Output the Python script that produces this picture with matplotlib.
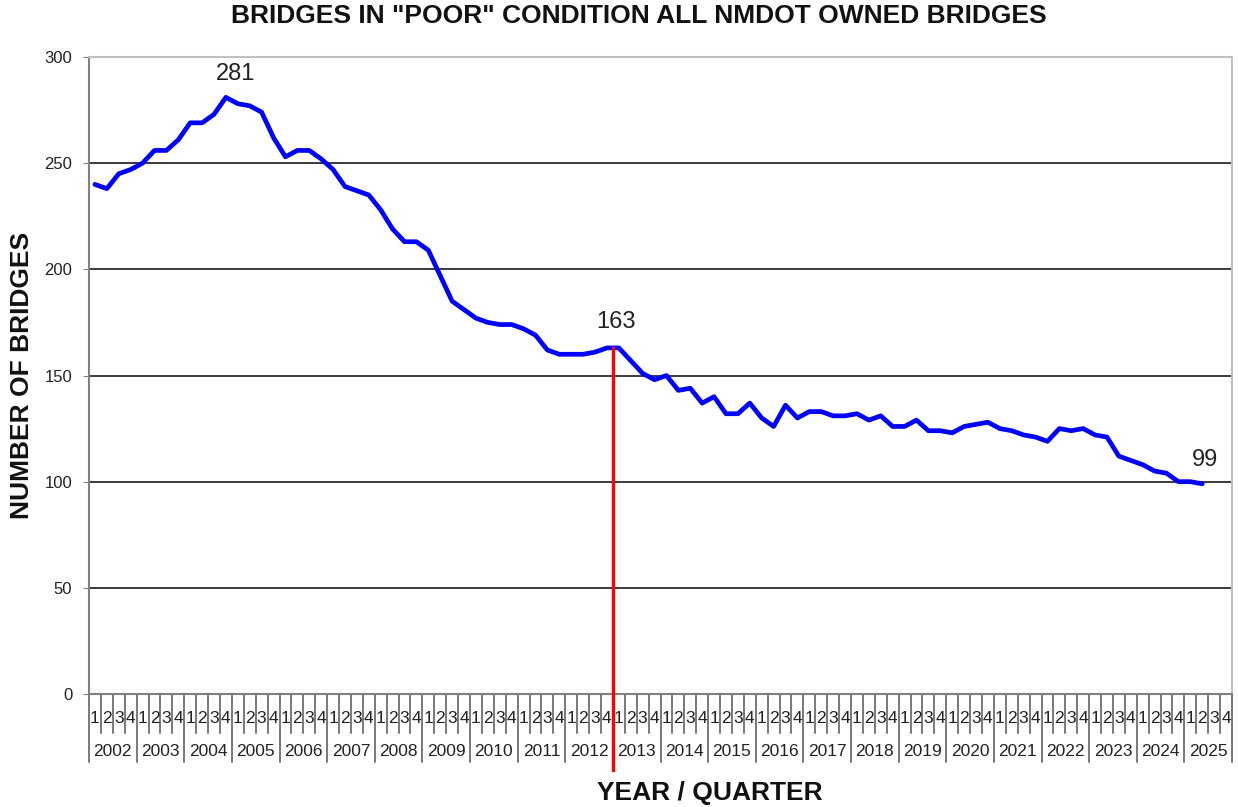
import matplotlib
matplotlib.use('Agg')
import matplotlib.pyplot as plt
import matplotlib.transforms as mtransforms
import numpy as np

# ---- data ----
years = [str(y) for y in range(2002, 2026)]
quarters = ['1', '2', '3', '4']
values = [240, 238, 245, 247, 250, 256, 256, 261, 269, 269,
          273, 281, 278, 277, 274, 262, 253, 256, 256, 252,
          247, 239, 237, 235, 228, 219, 213, 213, 209, 197,
          185, 181, 177, 175, 174, 174, 172, 169, 162, 160,
          160, 160, 161, 163, 163, 157, 151, 148, 150, 143,
          144, 137, 140, 132, 132, 137, 130, 126, 136, 130,
          133, 133, 131, 131, 132, 129, 131, 126, 126, 129,
          124, 124, 123, 126, 127, 128, 125, 124, 122, 121,
          119, 125, 124, 125, 122, 121, 112, 110, 108, 105,
          104, 100, 100, 99]
y_ticks = [0, 50, 100, 150, 200, 250, 300]
mark_year = '2013'
title = 'BRIDGES IN "POOR" CONDITION ALL NMDOT OWNED BRIDGES'
y_title = 'NUMBER OF BRIDGES'
x_title = 'YEAR / QUARTER'

plt.rcParams['font.family'] = ['Liberation Sans', 'DejaVu Sans']

W, H = 1238, 807
fig = plt.figure(figsize=(W / 100, H / 100), dpi=100)
ax = fig.add_axes([89 / W, 113 / H, 1143 / W, 637 / H])

n_cat = len(years) * len(quarters)
x = np.arange(len(values))

ax.set_xlim(-0.5, n_cat - 0.5)
ax.set_ylim(y_ticks[0], y_ticks[-1])

for t in y_ticks[1:-1]:
    ax.axhline(t, color='#1a1a1a', lw=1.2, zorder=1)

ax.plot(x, values, color='#0000ff', lw=3.4, solid_joinstyle='round',
        solid_capstyle='round', zorder=3)

ax.set_yticks(y_ticks)
ax.set_yticklabels([str(t) for t in y_ticks])
ax.tick_params(axis='y', length=4, color='#808080', labelsize=12,
               labelcolor='#222222', pad=8)
ax.set_xticks([])

for s in ['left', 'bottom']:
    ax.spines[s].set_color('#808080')
    ax.spines[s].set_linewidth(1.5)
for s in ['top', 'right']:
    ax.spines[s].set_color('#c0c0c0')
    ax.spines[s].set_linewidth(1.5)

# multi-level category axis
trans = mtransforms.blended_transform_factory(ax.transData, ax.transAxes)
q_len, y_len = 0.062, 0.107
for k in range(n_cat + 1):
    xb = k - 0.5
    ln = y_len if k % len(quarters) == 0 else q_len
    ax.plot([xb, xb], [0, -ln], transform=trans, clip_on=False,
            color='#555555', lw=1.1)
for i in range(n_cat):
    ax.text(i, -0.038, quarters[i % len(quarters)], transform=trans,
            ha='center', va='center', fontsize=12.5, color='#222222')
for j, yr in enumerate(years):
    ax.text(j * len(quarters) + (len(quarters) - 1) / 2, -0.090, yr,
            transform=trans, ha='center', va='center', fontsize=12.5,
            color='#222222')

# red marker line
mark_idx = years.index(mark_year) * len(quarters)
xr = mark_idx - 0.5
mark_val = values[mark_idx - 1]
ax.plot([xr, xr], [mark_val, -35.8], color='#ff0000', lw=2.4,
        clip_on=False, zorder=4)

# annotations
peak_idx = int(np.argmax(values))
ax.annotate(str(values[peak_idx]), xy=(peak_idx, values[peak_idx]),
            xytext=(7, 17), textcoords='offset points', ha='center',
            va='center', fontsize=17, color='#222222')
ax.annotate(str(mark_val), xy=(xr, mark_val), xytext=(2, 19),
            textcoords='offset points', ha='center', va='center',
            fontsize=17, color='#222222')
last_idx = len(values) - 1
ax.annotate(str(values[last_idx]), xy=(last_idx, values[last_idx]),
            xytext=(2, 17), textcoords='offset points', ha='center',
            va='center', fontsize=17, color='#222222')

fig.text(639 / W, 1 - 16 / H, title, ha='center', va='center',
         fontsize=19, fontweight='bold', color='#111111')
fig.text(22 / W, 1 - 375 / H, y_title, ha='center', va='center',
         rotation=90, fontsize=19, fontweight='bold', color='#111111')
fig.text(710 / W, 1 - 793 / H, x_title, ha='center', va='center',
         fontsize=19, fontweight='bold', color='#111111')

fig.savefig('out.png', dpi=100, facecolor='white')
